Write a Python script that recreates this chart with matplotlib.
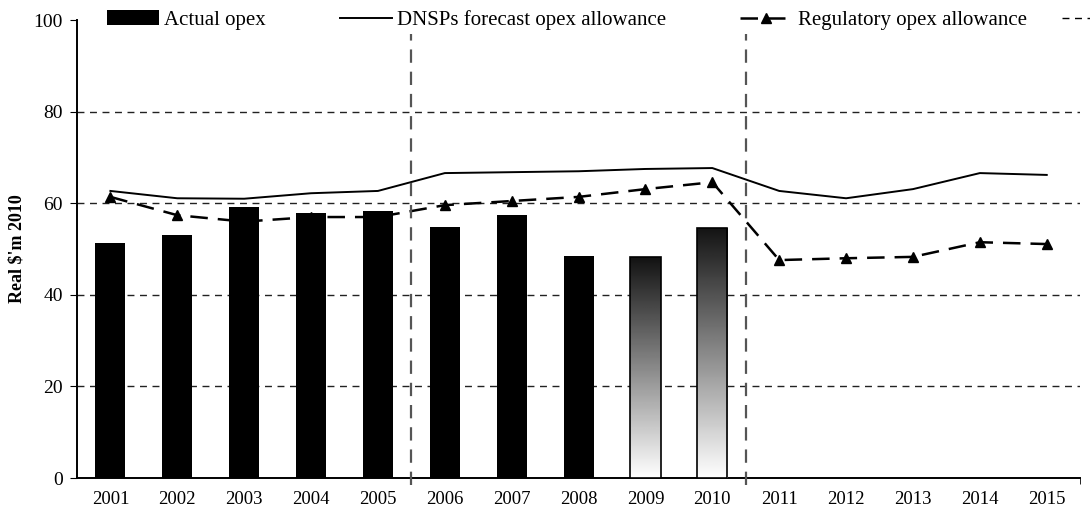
import matplotlib
matplotlib.use("Agg")
import matplotlib.pyplot as plt
import numpy as np
from matplotlib.lines import Line2D
from matplotlib.patches import Patch

years = ["2001", "2002", "2003", "2004", "2005", "2006", "2007", "2008",
         "2009", "2010", "2011", "2012", "2013", "2014", "2015"]
actual_opex = [51.4, 53.0, 59.2, 57.8, 58.3, 54.8, 57.4, 48.5, 48.2, 54.7]
forecast_opex = [62.7, 61.1, 61.0, 62.2, 62.7, 66.6, 66.8, 67.0, 67.5, 67.7,
                 62.7, 61.1, 63.1, 66.6, 66.2]
regulatory_opex = [61.4, 57.4, 56.0, 57.0, 57.0, 59.6, 60.5, 61.4, 63.1, 64.6,
                   47.6, 48.0, 48.3, 51.5, 51.1]
estimated_years = ["2009", "2010"]
period_breaks = [4.5, 9.5]

plt.rcParams['font.family'] = ['Liberation Serif', 'DejaVu Serif']

fig = plt.figure(figsize=(10.9, 5.17), dpi=100)
ax = fig.add_axes([0.0706, 0.0754, 0.9204, 0.8856])

x = np.arange(len(years))

# grid
for yv in [20, 40, 60, 80]:
    ax.axhline(yv, color='#222222', lw=1.0, ls=(0, (5, 4)), zorder=1)

# lines
ax.plot(x, forecast_opex, color='black', lw=1.4, zorder=2)
ax.plot(x, regulatory_opex, color='black', lw=1.8, ls=(0, (7, 4)),
        marker='^', markersize=7, zorder=2)

# bars
bw = 0.45
grad = np.linspace(0, 1, 256).reshape(-1, 1)
for i, v in enumerate(actual_opex):
    if years[i] in estimated_years:
        rect = ax.bar(x[i], v, width=bw, facecolor='none', edgecolor='black',
                      lw=1.2, zorder=4)[0]
        im = ax.imshow(grad, cmap='gray', aspect='auto',
                       extent=(x[i] - bw / 2, x[i] + bw / 2, 0, v),
                       origin='upper', vmin=-0.08, vmax=1.0, zorder=3)
        im.set_clip_path(rect)
    else:
        ax.bar(x[i], v, width=bw, color='black', zorder=3)

ax.set_xlim(-0.5, len(years) - 0.5)
ax.set_ylim(0, 100)

# period separators
for b in period_breaks:
    ax.axvline(b, ymin=-0.015, ymax=0.97, color='#555555', lw=1.6,
               ls=(0, (6, 4)), clip_on=False, zorder=5)

ax.set_xticks(x)
ax.set_xticklabels(years)
ax.set_xticks(period_breaks + [len(years) - 0.5], minor=True)
ax.tick_params(axis='x', which='major', length=0, pad=9, labelsize=13.5)
ax.tick_params(axis='x', which='minor', length=4, direction='out')
ax.set_yticks([0, 20, 40, 60, 80, 100])
ax.tick_params(axis='y', length=5, direction='out', labelsize=14, pad=5)

for s in ['top', 'right']:
    ax.spines[s].set_visible(False)
ax.spines['left'].set_linewidth(1.4)
ax.spines['bottom'].set_linewidth(1.4)

ax.set_ylabel("Real $'m 2010", fontsize=13, fontweight='bold', labelpad=6)

handles = [Patch(facecolor='black'),
           Line2D([], [], color='black', lw=1.4),
           Line2D([], [], color='black', lw=1.8, ls=(0, (7, 4)), marker='^', markersize=7)]
labels = ["Actual opex", "DNSPs forecast opex allowance", "Regulatory opex allowance"]
leg = fig.legend(handles, labels, ncol=3, loc='center left',
                 bbox_to_anchor=(107 / 1090, 1 - 20 / 517),
                 frameon=False, fontsize=15, handlelength=2.5,
                 handletextpad=0.25, columnspacing=3.55, borderaxespad=0, borderpad=0)
fig.legend([Line2D([], [], color='black', lw=1.0, ls=(0, (5, 4)))], [""],
           loc='center left', bbox_to_anchor=(1062 / 1090, 1 - 20 / 517),
           frameon=False, fontsize=15, handlelength=2.5, borderaxespad=0, borderpad=0)

fig.savefig("out.png", dpi=100)
